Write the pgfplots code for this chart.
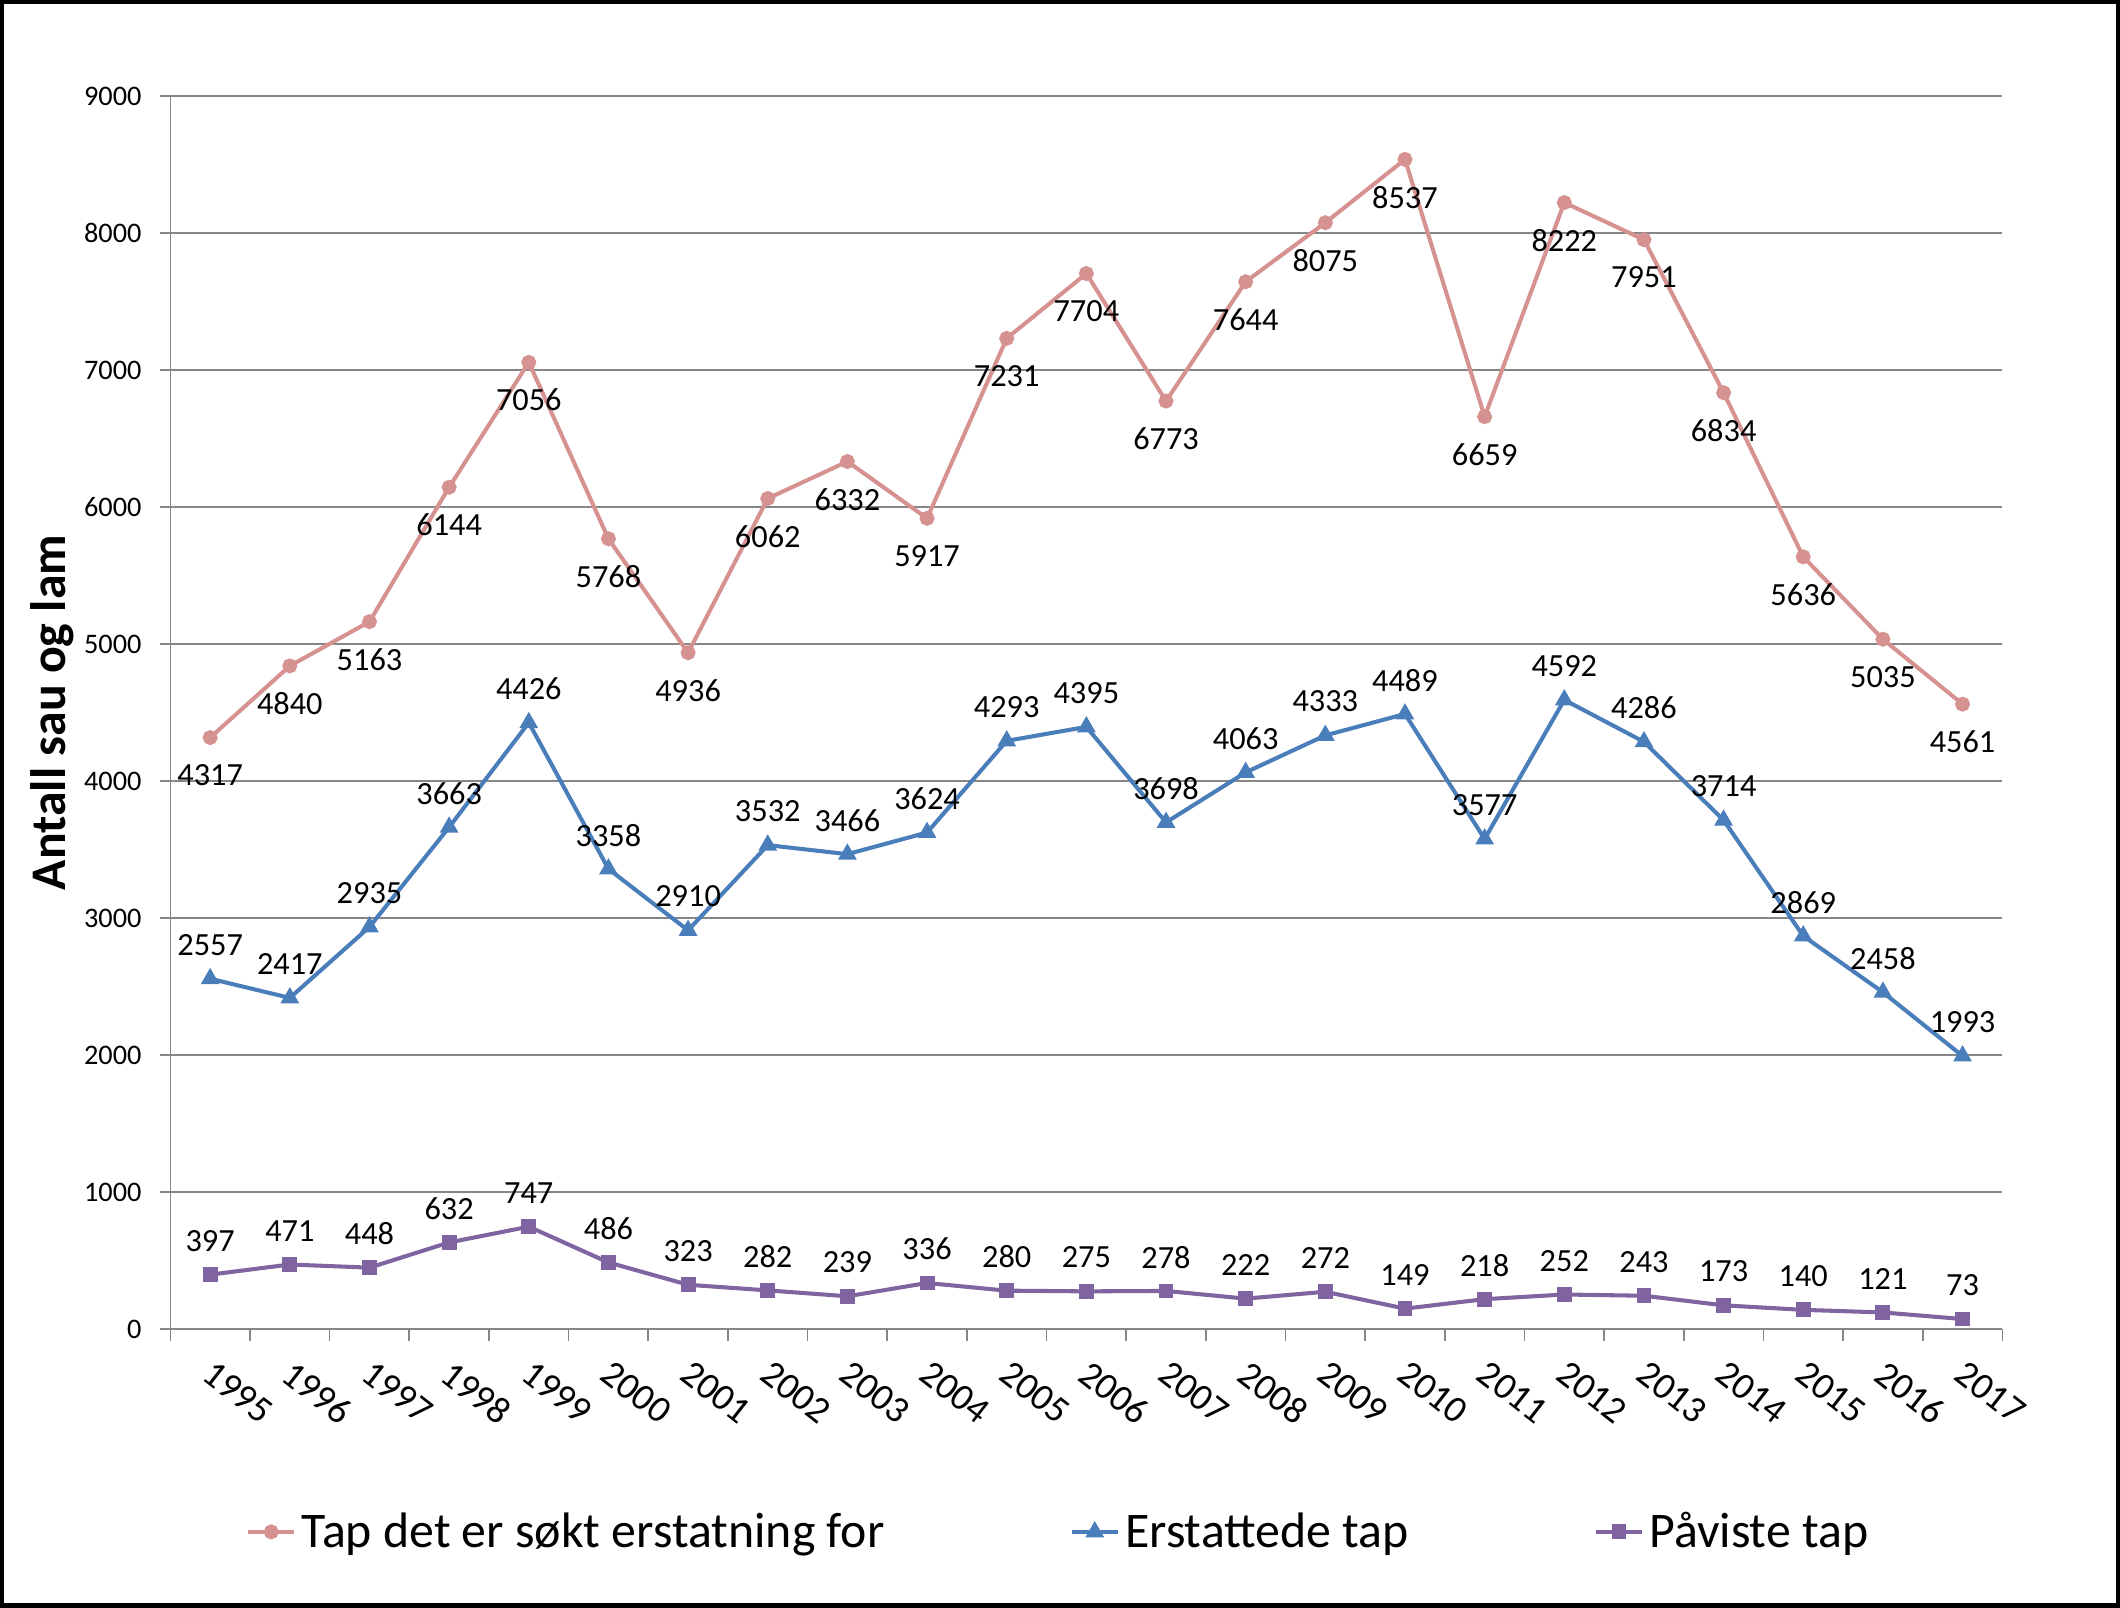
\documentclass[border=0pt]{standalone}
\usepackage{pgfplots}
\pgfplotsset{compat=1.18}
\usepackage{pgfplotstable}
\usepackage{fontspec}
\setmainfont{Carlito}
\definecolor{cpink}{RGB}{214,146,145}
\definecolor{cblue}{RGB}{74,126,187}
\definecolor{cpurple}{RGB}{128,100,162}
\definecolor{cgrid}{RGB}{134,134,134}

\pgfplotstableread{
year tap erst pav
1995 4317 2557 397
1996 4840 2417 471
1997 5163 2935 448
1998 6144 3663 632
1999 7056 4426 747
2000 5768 3358 486
2001 4936 2910 323
2002 6062 3532 282
2003 6332 3466 239
2004 5917 3624 336
2005 7231 4293 280
2006 7704 4395 275
2007 6773 3698 278
2008 7644 4063 222
2009 8075 4333 272
2010 8537 4489 149
2011 6659 3577 218
2012 8222 4592 252
2013 7951 4286 243
2014 6834 3714 173
2015 5636 2869 140
2016 5035 2458 121
2017 4561 1993 73
}\data

\begin{document}
\begin{tikzpicture}
\begin{axis}[
  scale only axis,
  width=677.5bp, height=456bp,
  xmin=1994.5, xmax=2017.5,
  ymin=0, ymax=9000,
  ytick={0,1000,...,9000},
  xtick={1995,...,2017},
  minor xtick={1994.5,1995.5,...,2017.5},
  /pgf/number format/.cd, 1000 sep={}, assume math mode=true,
  /pgfplots/.cd,
  axis x line*=bottom,
  axis y line*=left,
  axis line style={draw=cgrid, line width=0.6bp},
  ymajorgrids,
  grid style={draw=cgrid, line width=0.6bp},
  tick align=outside,
  major tick length=4bp,
  minor tick length=4.5bp,
  major x tick style={draw=none},
  minor x tick style={draw=cgrid, line width=0.6bp},
  major y tick style={draw=cgrid, line width=0.6bp},
  yticklabel style={font=\fontsize{10.5}{12}\selectfont, inner sep=0pt, xshift=-6.5bp},
  xticklabel style={font=\fontsize{14}{16}\selectfont, xshift=2bp, yshift=-6.8bp, rotate=-38, anchor=north west, inner sep=0pt},
  every axis y label/.style={at={(rel axis cs:0,0.5)}, xshift=-43.5bp, rotate=90, anchor=center, font=\fontsize{18.5}{22}\selectfont\bfseries},
  ylabel={Antall sau og lam},
  clip=false,
  every node near coord/.append style={font=\fontsize{12}{14}\selectfont, text=black, anchor=center},
  legend columns=3,
  legend style={draw=none, fill=none, at={(0.4856,-0.1645)}, anchor=center,
    font=\fontsize{18.5}{22}\selectfont,
    /tikz/every even column/.append style={column sep=66.5bp}},
]
\addplot[cpink, line width=1.5bp, mark=*, mark size=2bp, mark options={solid, fill=cpink},
  nodes near coords, every node near coord/.append style={yshift=-14bp}]
  table[x=year, y=tap] {\data};
\addlegendentry{Tap det er søkt erstatning for}
\addplot[cblue, line width=1.5bp, mark=triangle*, mark size=2.5bp, mark options={solid, fill=cblue},
  nodes near coords, every node near coord/.append style={yshift=12.5bp}]
  table[x=year, y=erst] {\data};
\addlegendentry{Erstattede tap}
\addplot[cpurple, line width=1.5bp, mark=square*, mark size=2bp, mark options={solid, fill=cpurple},
  nodes near coords, every node near coord/.append style={yshift=12.5bp}]
  table[x=year, y=pav] {\data};
\addlegendentry{Påviste tap}
\end{axis}
\draw[line width=1.5bp, black] ([xshift=-62.25bp,yshift=-102.25bp]current axis.south west) rectangle ([xshift=42.75bp,yshift=34.75bp]current axis.north east);
\end{tikzpicture}
\end{document}
